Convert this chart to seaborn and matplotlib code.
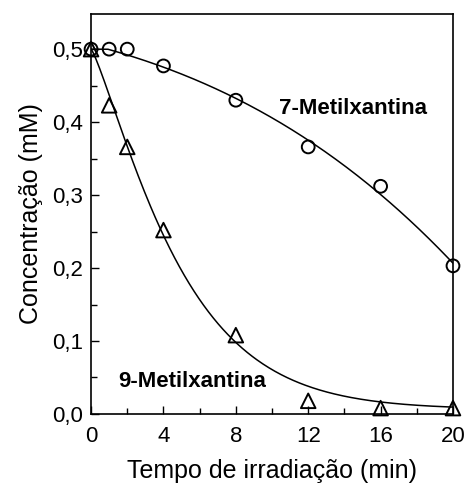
import numpy as np
import pandas as pd
import matplotlib
matplotlib.use("Agg")
import matplotlib.pyplot as plt
import seaborn as sns
from matplotlib.ticker import MultipleLocator, FuncFormatter

sns.set_theme(style="ticks")
plt.rcParams['font.family'] = ['Liberation Sans', 'DejaVu Sans']
plt.rcParams['text.color'] = 'black'
plt.rcParams['axes.labelcolor'] = 'black'

tempo = [0, 1, 2, 4, 8, 12, 16, 20]
metil7 = [0.500, 0.500, 0.500, 0.477, 0.430, 0.366, 0.312, 0.203]
tempo9 = [0, 1, 2, 4, 8, 12, 16, 20]
metil9 = [0.500, 0.423, 0.366, 0.252, 0.108, 0.018, 0.008, 0.008]

df7 = pd.DataFrame({"t": tempo, "c": metil7})
df9 = pd.DataFrame({"t": tempo9, "c": metil9})

# smooth fitted curves derived from the data
tt = np.linspace(0, 20, 300)
p7 = np.polyfit(df7["t"], df7["c"], 3)
fit7 = np.polyval(p7, tt)
fit7 = np.minimum(fit7, df7["c"].iloc[0])

# stretched-exponential least-squares fit (grid search) for 9-metilxantina
t9 = df9["t"].to_numpy(float)
c9 = df9["c"].to_numpy(float)
c0 = c9[0]
base = c9.min() * 0.8
best = None
for tau in np.linspace(2, 10, 161):
    for n in np.linspace(0.8, 2.5, 171):
        pred = base + (c0 - base) * np.exp(-np.power(t9 / tau, n))
        err = np.sum((pred - c9) ** 2)
        if best is None or err < best[0]:
            best = (err, tau, n)
_, tau, n = best
fit9 = base + (c0 - base) * np.exp(-np.power(tt / tau, n))

fig, ax = plt.subplots(figsize=(4.67, 4.87), dpi=100)
fig.subplots_adjust(left=0.195, right=0.970, top=0.971, bottom=0.150)

ax.plot(tt, fit7, color="black", lw=1.1)
ax.plot(tt, fit9, color="black", lw=1.1)
sns.scatterplot(data=df7, x="t", y="c", marker="o", s=85, facecolors="none",
                edgecolor="black", linewidth=1.4, ax=ax, zorder=3, clip_on=False)
sns.scatterplot(data=df9, x="t", y="c", marker="^", s=110, facecolors="none",
                edgecolor="black", linewidth=1.4, ax=ax, zorder=3, clip_on=False)

ax.set_xlim(0, 20)
ax.set_ylim(0, 0.548)
ax.xaxis.set_major_locator(MultipleLocator(4))
ax.xaxis.set_minor_locator(MultipleLocator(2))
ax.yaxis.set_major_locator(MultipleLocator(0.1))
ax.yaxis.set_minor_locator(MultipleLocator(0.05))
ax.yaxis.set_major_formatter(FuncFormatter(lambda v, p: f"{v:.1f}".replace(".", ",")))
ax.tick_params(which="both", direction="in", top=False, right=False, labelsize=16, colors="black")
ax.tick_params(axis="x", which="major", pad=9)
ax.tick_params(axis="y", which="major", pad=6)
ax.tick_params(which="major", length=6, width=1)
ax.tick_params(which="minor", length=4, width=1)
for s in ax.spines.values():
    s.set_linewidth(1.2)
    s.set_color("black")

ax.set_xlabel("Tempo de irradiação (min)", fontsize=18, labelpad=8)
ax.set_ylabel("Concentração (mM)", fontsize=18, labelpad=6)

ax.text(14.5, 0.418, "7-Metilxantina", fontsize=16, fontweight="bold", ha="center", va="center")
ax.text(5.6, 0.044, "9-Metilxantina", fontsize=16, fontweight="bold", ha="center", va="center")

fig.savefig("out.png", dpi=100)
